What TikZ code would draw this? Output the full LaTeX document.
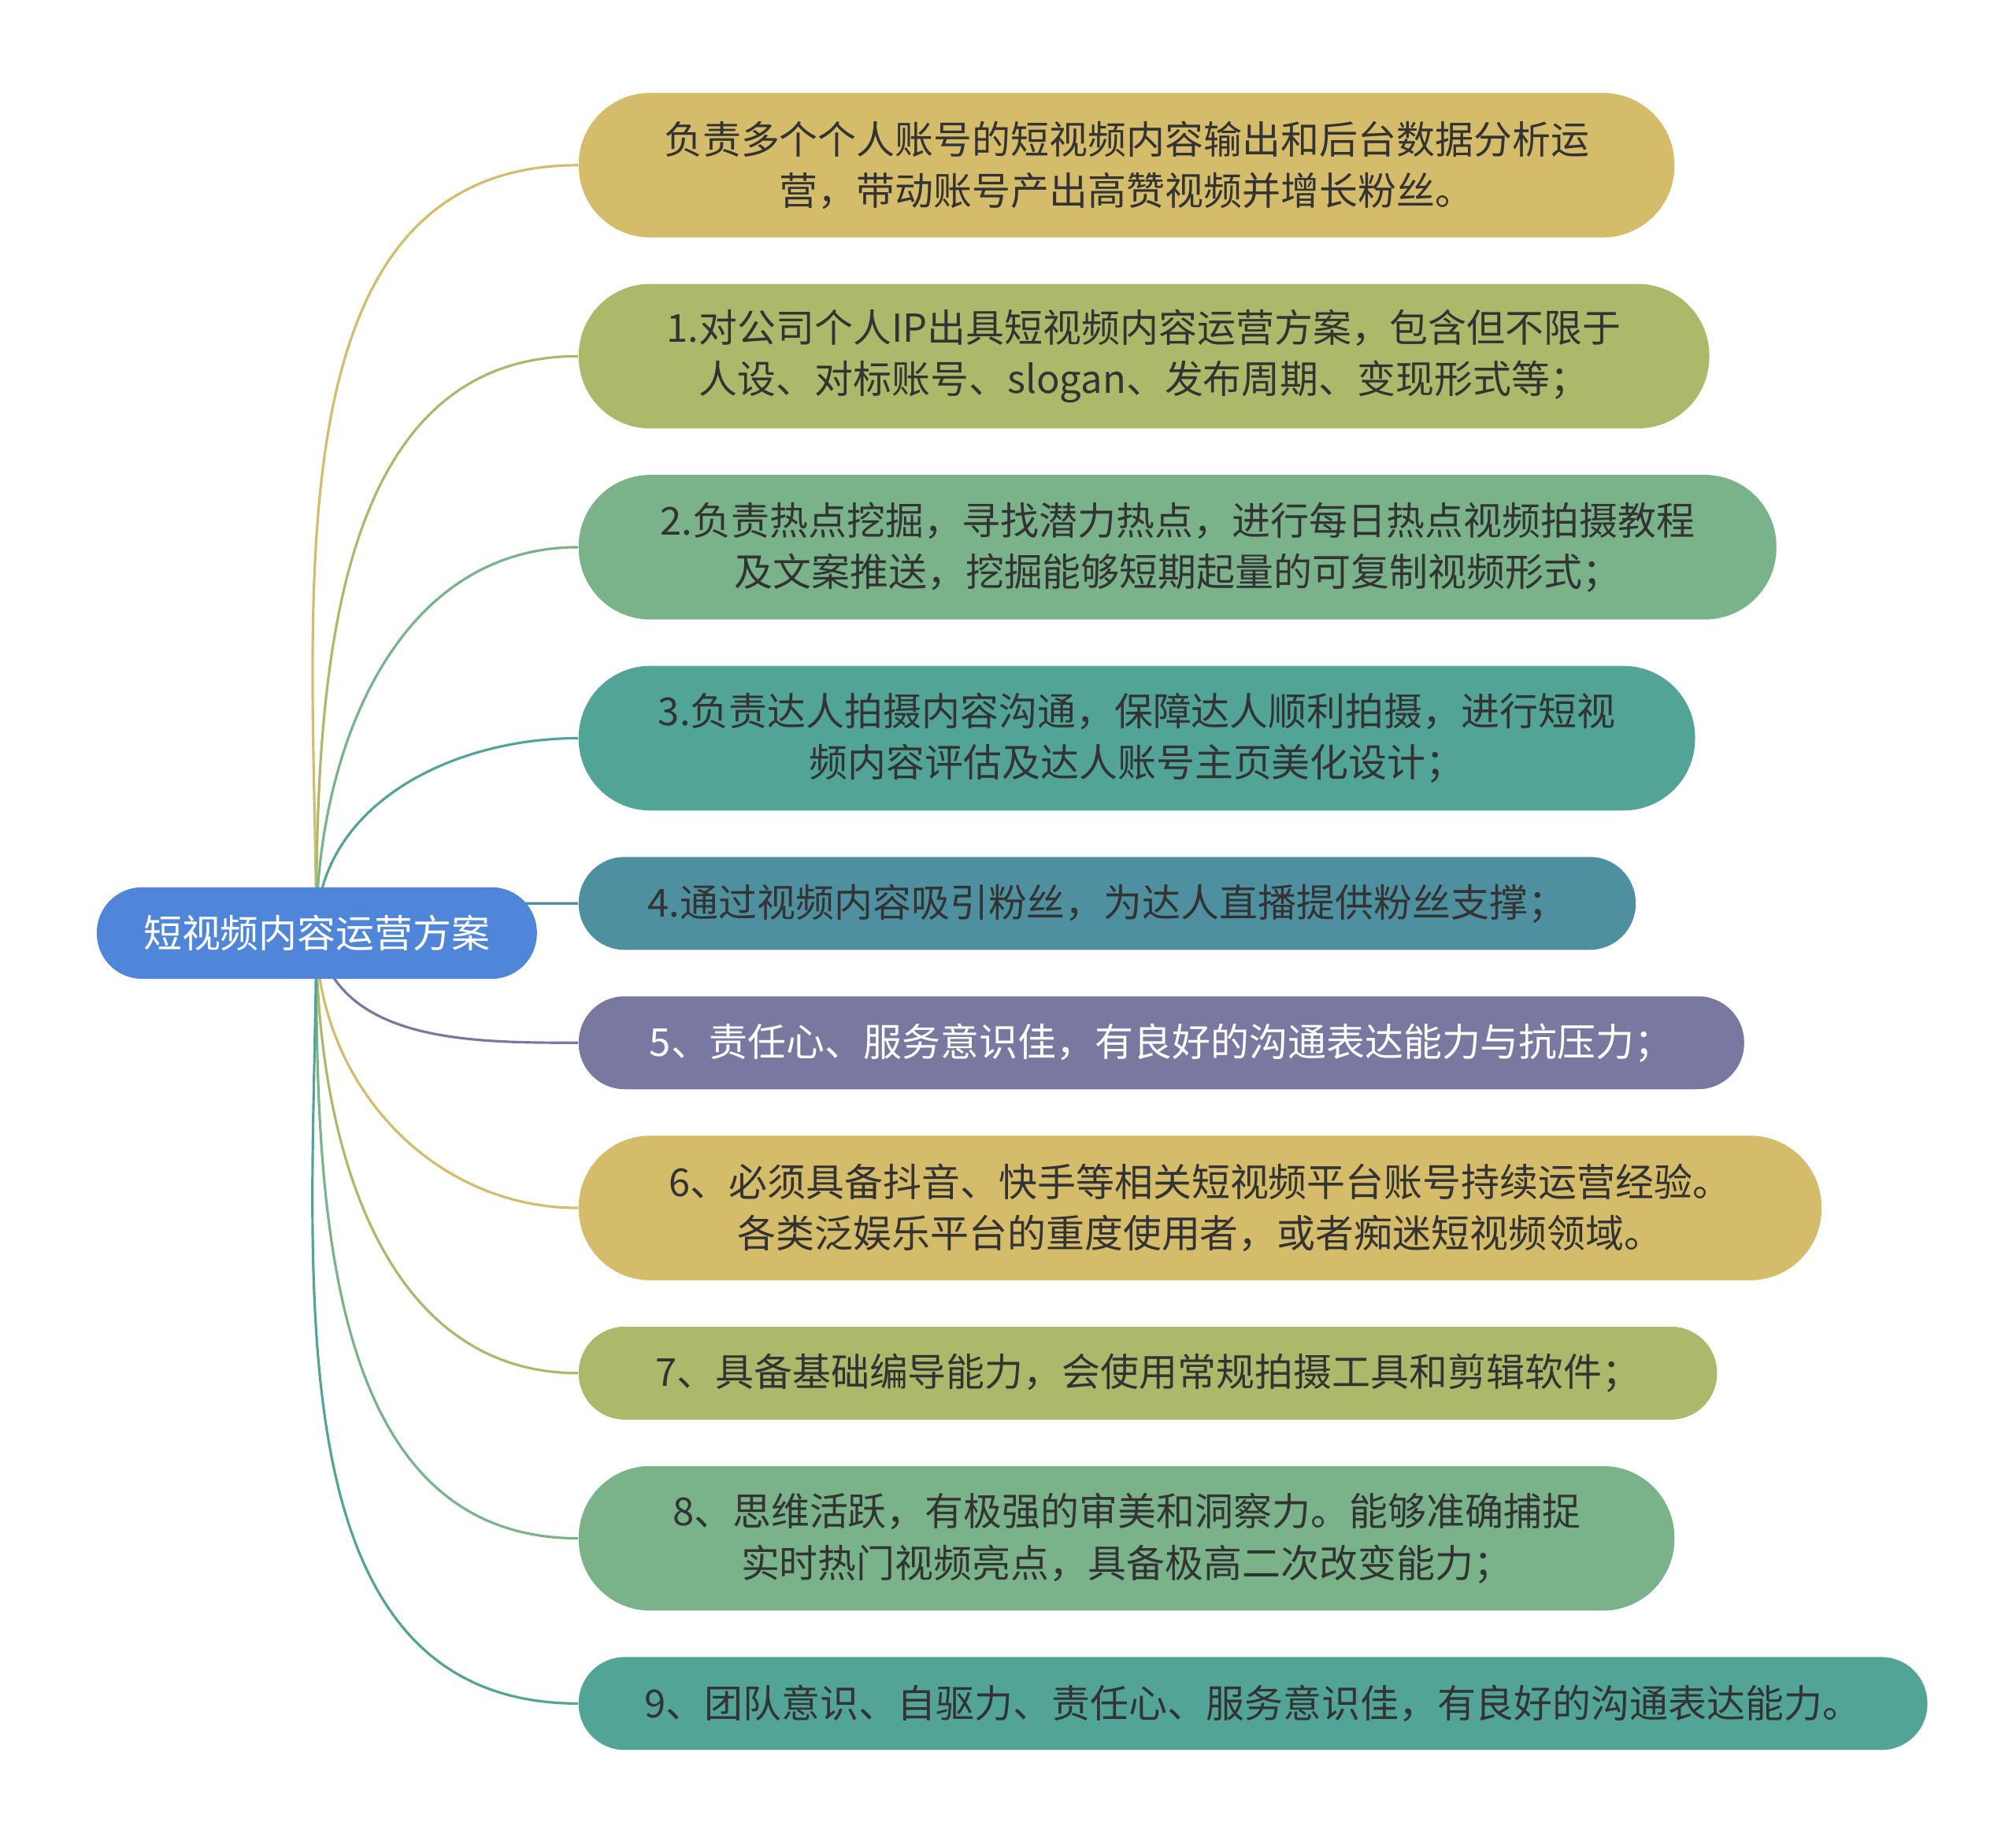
\documentclass[tikz,border=0pt]{standalone}
\usepackage{fontspec}
\setmainfont{Noto Sans CJK SC}
\usetikzlibrary{backgrounds}
\definecolor{cgold}{HTML}{D4BC6A}
\definecolor{colive}{HTML}{AEB86A}
\definecolor{cgreen}{HTML}{7AB38A}
\definecolor{cteal}{HTML}{52A496}
\definecolor{cblue}{HTML}{4E90A0}
\definecolor{cpurp}{HTML}{7878A0}
\definecolor{croot}{HTML}{4F86D9}
\definecolor{ctext}{HTML}{333333}
\begin{document}
\begin{tikzpicture}[x=0.02cm,y=-0.02cm,
  br/.style={anchor=west,align=center,text=ctext,
    font=\fontsize{17}{22.7}\selectfont,inner sep=0pt},
  lk/.style={line width=1.1pt}]
\useasboundingbox (0,0) rectangle (1562,1426);
\node[fill=croot,rounded corners=20pt,minimum width=341*0.02cm,minimum height=71*0.02cm,text=white,font=\fontsize{17}{22.7}\selectfont] (root) at (245.5,723) {短视频内容运营方案};
\newcommand{\brnode}[6]{\node[br,fill=#3,minimum width=#4*0.02cm,minimum height=#5*0.02cm,rounded corners=#5*0.0099cm] (#1) at (448,#2) {#6};}
\brnode{b0}{128}{cgold}{849}{112}{负责多个个人账号的短视频内容输出和后台数据分析运\\营，带动账号产出高赞视频并增长粉丝。}
\brnode{b1}{276}{colive}{876}{112}{1.对公司个人IP出具短视频内容运营方案，包含但不限于\\人设、对标账号、slogan、发布周期、变现形式等；}
\brnode{b2}{424}{cgreen}{928}{112}{2.负责热点挖掘，寻找潜力热点，进行每日热点视频拍摄教程\\及文案推送，挖掘能够短期起量的可复制视频形式；}
\brnode{b3}{572}{cteal}{865}{112}{3.负责达人拍摄内容沟通，保障达人顺利拍摄，进行短视\\频内容评估及达人账号主页美化设计；}
\brnode{b4}{700}{cblue}{819}{72}{4.通过视频内容吸引粉丝，为达人直播提供粉丝支撑；}
\brnode{b5}{808}{cpurp}{903}{72}{\textcolor{white}{5、责任心、服务意识佳，有良好的沟通表达能力与抗压力；}}
\brnode{b6}{936}{cgold}{963}{112}{6、必须具备抖音、快手等相关短视频平台账号持续运营经验。\\各类泛娱乐平台的重度使用者，或者痴迷短视频领域。}
\brnode{b7}{1064}{colive}{882}{72}{7、具备基础编导能力，会使用常规拍摄工具和剪辑软件；}
\brnode{b8}{1192}{cgreen}{849}{112}{8、思维活跃，有极强的审美和洞察力。能够准确捕捉\\实时热门视频亮点，具备极高二次改变能力；}
\brnode{b9}{1320}{cteal}{1045}{72}{9、团队意识、自驱力、责任心、服务意识佳，有良好的沟通表达能力。}
\begin{scope}[on background layer]
\coordinate (rc) at (245,723);
\draw[lk,cgold] (rc) to[out=90,in=180] (b0.west);
\draw[lk,colive] (rc) to[out=90,in=180] (b1.west);
\draw[lk,cgreen] (rc) to[out=90,in=180] (b2.west);
\draw[lk,cteal] (rc) to[out=90,in=180] (b3.west);
\draw[lk,cblue] (rc) .. controls (300,700) .. (b4.west);
\draw[lk,cpurp] (rc) to[out=-80,in=180] (b5.west);
\draw[lk,cgold] (rc) to[out=-90,in=180] (b6.west);
\draw[lk,colive] (rc) to[out=-90,in=180] (b7.west);
\draw[lk,cgreen] (rc) to[out=-90,in=180] (b8.west);
\draw[lk,cteal] (rc) to[out=-90,in=180] (b9.west);
\end{scope}
\end{tikzpicture}
\end{document}
